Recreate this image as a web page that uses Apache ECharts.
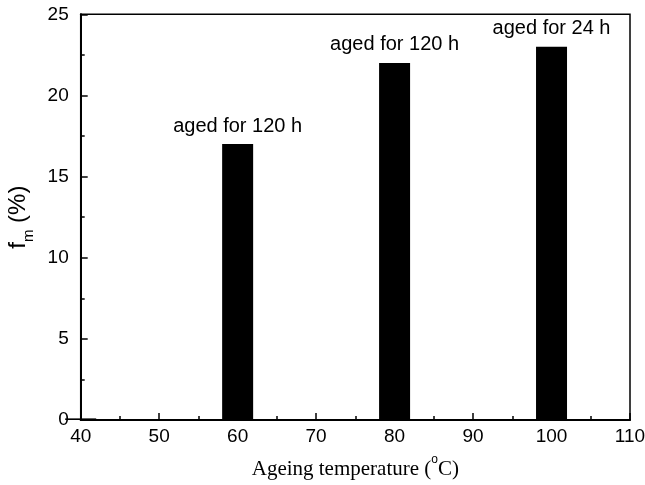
<!DOCTYPE html>
<html>
<head>
<meta charset="utf-8">
<script src="https://cdn.jsdelivr.net/npm/echarts@6/dist/echarts.min.js"></script>
<style>html,body{margin:0;padding:0;background:#fff}#c{width:645px;height:485px}</style>
</head>
<body>
<div id="c"></div>
<script>
var temperatures = [40, 60, 80, 100];
var fmValues = [0.1, 17, 22, 23];
var annotations = ['', 'aged for 120 h', 'aged for 120 h', 'aged for 24 h'];
var xTicks = [40, 50, 60, 70, 80, 90, 100, 110];
var yTicks = [0, 5, 10, 15, 20, 25];

var data = temperatures.map(function (t, i) { return [t, fmValues[i]]; });
var chart = echarts.init(document.getElementById('c'), null, {renderer: 'canvas'});
var sans = 'Liberation Sans, Arial, sans-serif';
var serif = 'Liberation Serif, Times New Roman, serif';
chart.setOption({
  animation: false,
  grid: {left: 80.7, right: 15, top: 14.3, bottom: 65, containLabel: false, outerBoundsMode: 'none',
    show: true, borderColor: '#000', borderWidth: 1.5, backgroundColor: 'transparent'},
  xAxis: {
    type: 'value', min: xTicks[0], max: xTicks[xTicks.length - 1], interval: 10,
    axisLine: {show: true, onZero: false, lineStyle: {color: '#000', width: 2}},
    axisTick: {show: true, inside: true, length: 7, lineStyle: {color: '#000', width: 1.5}},
    minorTick: {show: true, splitNumber: 2, length: 4, lineStyle: {color: '#000', width: 1.5}},
    splitLine: {show: false},
    axisLabel: {color: '#000', fontSize: 19, fontFamily: sans, margin: 7},
    name: '{t|Ageing temperature (}{sup|o}{t|C)}',
    nameLocation: 'middle', nameGap: 34,
    nameTextStyle: {
      rich: {
        t: {fontFamily: serif, fontSize: 21, color: '#000', lineHeight: 26, verticalAlign: 'bottom'},
        sup: {fontFamily: sans, fontSize: 12, color: '#000', lineHeight: 26, verticalAlign: 'top'}
      }
    }
  },
  yAxis: {
    type: 'value', min: yTicks[0], max: yTicks[yTicks.length - 1], interval: 5,
    axisLine: {show: true, lineStyle: {color: '#000', width: 2}},
    axisTick: {show: true, inside: true, length: 7, lineStyle: {color: '#000', width: 1.5}},
    minorTick: {show: true, splitNumber: 2, length: 4, lineStyle: {color: '#000', width: 1.5}},
    splitLine: {show: false},
    axisLabel: {color: '#000', fontSize: 19, fontFamily: sans, margin: 12},
    name: '{f|f}{sub|m}{f| (%)}',
    nameLocation: 'middle', nameGap: 43, nameRotate: 90,
    nameTextStyle: {
      rich: {
        f: {fontFamily: sans, fontSize: 24, color: '#000', lineHeight: 30, verticalAlign: 'top'},
        sub: {fontFamily: sans, fontSize: 15, color: '#000', lineHeight: 30, verticalAlign: 'bottom'}
      }
    }
  },
  series: [{
    type: 'bar',
    data: data,
    barWidth: 31,
    clip: true,
    itemStyle: {color: '#000'},
    label: {
      show: true, position: 'top', distance: 8,
      color: '#000', fontSize: 20, fontFamily: sans,
      formatter: function (p) { return annotations[p.dataIndex]; }
    }
  }]
});
</script>
</body>
</html>
